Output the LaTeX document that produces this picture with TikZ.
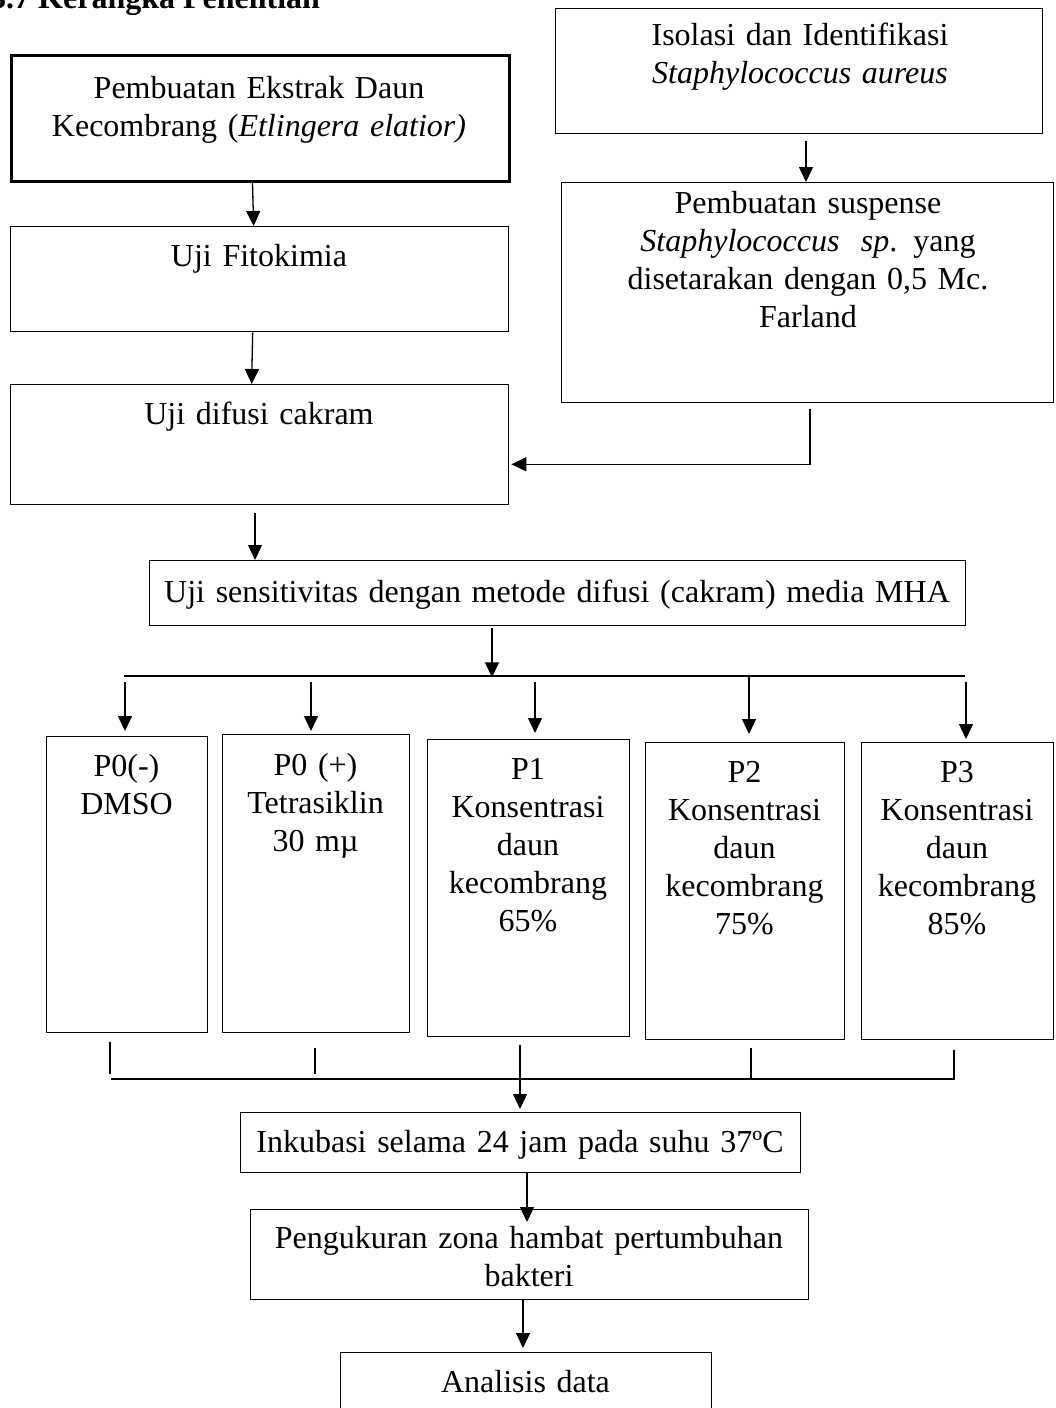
\documentclass[tikz,border=0pt]{standalone}
\usepackage{fontspec}
\setmainfont{Liberation Serif}
\usetikzlibrary{arrows.meta,calc}
\begin{document}
\begin{tikzpicture}[x=1pt,y=-1pt,
  box/.style={draw, line width=1.3pt, inner sep=0pt, anchor=north west, rectangle},
  txt/.style={inner sep=0pt, align=center, anchor=base, font=\fontsize{32}{38}\selectfont},
  ln/.style={line width=1.3pt},
  arr/.style={line width=1.3pt, -{Triangle[length=15pt,width=14pt]}}]

\useasboundingbox (0,0) rectangle (1055,1408);
\fill[white] (0,0) rectangle (1055,1408);

% title (cut off at the top)
\node[anchor=base west, inner sep=0pt, font=\bfseries\fontsize{32}{38}\selectfont] (title) at (-10,9) {3.7 Kerangka Penelitian};

% boxes
\node[box, line width=3pt, minimum width=498pt, minimum height=126pt] (A) at (10,54) {};
\node[txt, text width=490pt] (tA) at (259,98) {Pembuatan Ekstrak Daun\\Kecombrang (\textit{Etlingera elatior)}};

\node[box, minimum width=487pt, minimum height=125pt] (B) at (555,8) {};
\node[txt, text width=480pt] (tB) at (800,45) {Isolasi dan Identifikasi\\\textit{Staphylococcus aureus}};

\node[box, minimum width=498pt, minimum height=105pt] (C) at (10,226) {};
\node[txt, text width=490pt] (tC) at (259,266) {Uji Fitokimia};

\node[box, minimum width=498pt, minimum height=120pt] (D) at (10,384) {};
\node[txt, text width=490pt] (tD) at (259,424) {Uji difusi cakram};

\node[box, minimum width=492pt, minimum height=220pt] (E) at (561,182) {};
\node[txt, text width=485pt] (tE) at (808,213) {Pembuatan suspense\\\textit{Staphylococcus\ \ sp}. yang\\disetarakan dengan 0,5 Mc.\\Farland};

\node[box, minimum width=816pt, minimum height=65pt] (F) at (149,560) {};
\node[txt, text width=810pt] (tF) at (557,602) {Uji sensitivitas dengan metode difusi (cakram) media MHA};

\node[box, minimum width=161pt, minimum height=296pt] (P0m) at (46,736) {};
\node[txt, text width=158pt] (tP0m) at (126.5,776) {P0(-)\\DMSO};

\node[box, minimum width=187pt, minimum height=298pt] (P0p) at (222,734) {};
\node[txt, text width=184pt] (tP0p) at (315.5,775) {P0 (+)\\Tetrasiklin\\30 mµ};

\node[box, minimum width=202pt, minimum height=297pt] (P1) at (427,739) {};
\node[txt, text width=199pt] (tP1) at (528,779) {P1\\Konsentrasi\\daun\\kecombrang\\65\%};

\node[box, minimum width=199pt, minimum height=297pt] (P2) at (645,742) {};
\node[txt, text width=196pt] (tP2) at (744.5,782) {P2\\Konsentrasi\\daun\\kecombrang\\75\%};

\node[box, minimum width=192pt, minimum height=297pt] (P3) at (861,742) {};
\node[txt, text width=189pt] (tP3) at (957,782) {P3\\Konsentrasi\\daun\\kecombrang\\85\%};

\node[box, minimum width=560pt, minimum height=60pt] (G) at (240,1112) {};
\node[txt, text width=555pt] (tG) at (520,1152) {Inkubasi selama 24 jam pada suhu 37ºC};

\node[box, minimum width=558pt, minimum height=90pt] (H) at (250,1209) {};
\node[txt, text width=552pt] (tH) at (529,1248) {Pengukuran zona hambat pertumbuhan\\bakteri};

\node[box, minimum width=371pt, minimum height=90pt] (I) at (340,1352) {};
\node[txt, text width=365pt] (tI) at (525.5,1392) {Analisis data};

% connectors, upper part
\draw[arr] ([xshift=-8pt]A.south) -- ([xshift=-6pt]C.north);
\draw[arr] ([xshift=-7pt]C.south) -- ([xshift=-8pt]D.north);
\draw[arr] ($(B.south west)+(251,7)$) -- ($(E.north west)+(245,0)$);
\draw[arr] ($(E.south west)+(249,6)$) |- ($(D.south east)+(2,-41)$);
\draw[arr] ($(D.south west)+(245,8)$) -- ($(F.north west)+(106,0)$);

% distribution bar
\coordinate (b0) at (124,676);
\coordinate (b1) at (965,676);
\draw[arr] ($(F.south west)+(343,2)$) -- ($(F.south west)+(343,51)$);
\draw[ln] (b0) -- (b1);
\coordinate (s1) at (125,682);
\coordinate (s2) at (311,682);
\coordinate (s3) at (535,682);
\coordinate (s4) at (749,676);
\coordinate (s5) at (966,682);
\draw[arr] (s1) -- ($(P0m.north west)+(79,-5)$);
\draw[arr] (s2) -- ($(P0p.north west)+(89,-3)$);
\draw[arr] (s3) -- ($(P1.north west)+(108,-6)$);
\draw[arr] (s4) -- ($(P2.north west)+(104,-8)$);
\draw[arr] (s5) -- ($(P3.north west)+(105,-3)$);

% merge bar
\coordinate (m0) at (111,1079);
\coordinate (m1) at (954,1079);
\draw[ln] ($(P0m.south west)+(64,9)$) -- ($(P0m.south west)+(64,41)$);
\draw[ln] ($(P0p.south west)+(93,15)$) -- ($(P0p.south west)+(93,41)$);
\draw[ln] ($(P2.south west)+(106,8)$) -- ($(P2.south west)+(106,40)$);
\draw[ln] ($(P3.south west)+(93,10)$) -- ($(P3.south west)+(93,40)$);
\draw[ln] (m0) -- (m1);
\draw[arr] ($(P1.south west)+(93,8)$) -- ($(G.north west)+(280,-3)$);

% lower part
\draw[arr] ($(G.south west)+(287,0)$) -- ($(H.north west)+(277,13)$);
\draw[arr] ($(H.south west)+(273,0)$) -- ($(I.north west)+(183,-4)$);
\end{tikzpicture}
\end{document}
